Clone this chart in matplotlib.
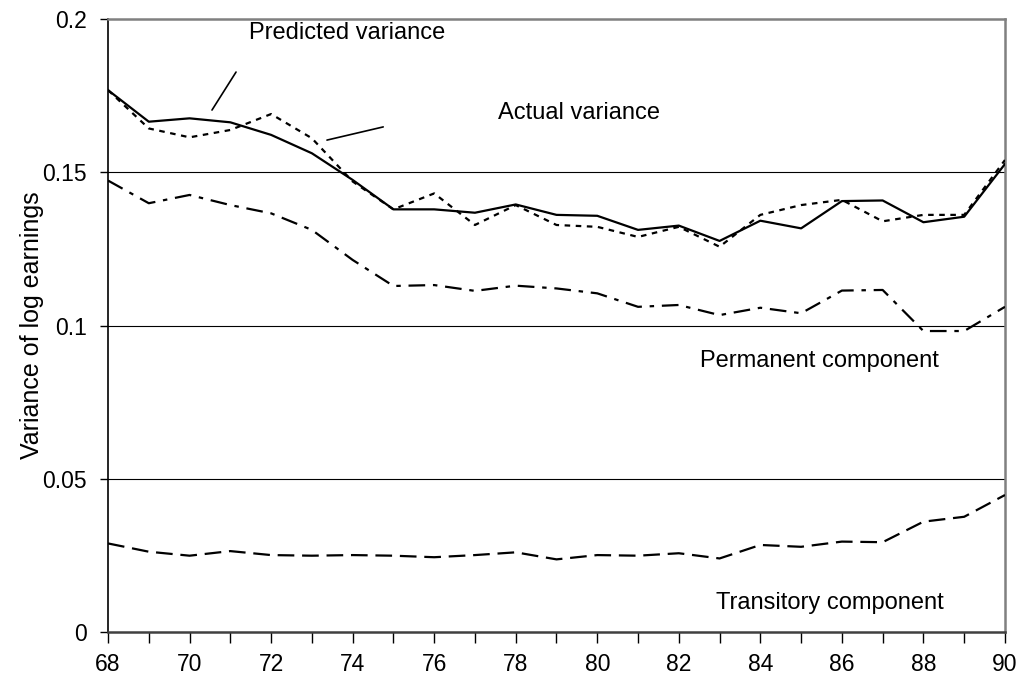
import matplotlib
matplotlib.use("Agg")
import matplotlib.pyplot as plt

plt.rcParams['font.family'] = ['Liberation Sans', 'DejaVu Sans']

years = list(range(68, 91))
predicted = [0.1768, 0.1665, 0.1676, 0.1663, 0.1622, 0.1562, 0.1475, 0.1379, 0.1379, 0.1368,
             0.1395, 0.1361, 0.1358, 0.1312, 0.1326, 0.1276, 0.1342, 0.1317, 0.1406, 0.1408,
             0.1337, 0.1355, 0.1527]
actual = [0.1768, 0.1643, 0.1614, 0.1638, 0.1690, 0.1611, 0.1470, 0.1379, 0.1431, 0.1328,
          0.1393, 0.1328, 0.1322, 0.1289, 0.1322, 0.1257, 0.1361, 0.1393, 0.1410, 0.1340,
          0.1361, 0.1361, 0.1540]
permanent = [0.1473, 0.1399, 0.1426, 0.1393, 0.1366, 0.1312, 0.1214, 0.1129, 0.1132, 0.1113,
             0.1130, 0.1121, 0.1105, 0.1061, 0.1067, 0.1034, 0.1058, 0.1040, 0.1114, 0.1116,
             0.0982, 0.0982, 0.1061]
transitory = [0.0289, 0.0262, 0.0249, 0.0264, 0.0251, 0.0249, 0.0251, 0.0249, 0.0244, 0.0251,
              0.0260, 0.0237, 0.0251, 0.0249, 0.0257, 0.0240, 0.0284, 0.0278, 0.0295, 0.0293,
              0.0360, 0.0376, 0.0447]
xtick_labels = ['68', '70', '72', '74', '76', '78', '80', '82', '84', '86', '88', '90']
ytick_labels = ['0', '0.05', '0.1', '0.15', '0.2']

fig = plt.figure(figsize=(10.21, 6.82), dpi=100)
ax = fig.add_axes([0.1058, 0.0733, 0.8785, 0.8988])

for v in [0.05, 0.1, 0.15]:
    ax.axhline(v, color='black', lw=0.8, zorder=1)

ax.plot(years, transitory, color='black', lw=1.6, dashes=(7.5, 3.5), zorder=3)
ax.plot(years, permanent, color='black', lw=1.6, dashes=(7.5, 3.5, 2, 3.5), zorder=3)
ax.plot(years, actual, color='black', lw=1.6, dashes=(2.5, 2.5), zorder=3)
ax.plot(years, predicted, color='black', lw=1.6, zorder=4)

ax.set_xlim(68, 90)
ax.set_ylim(0, 0.2)
ax.set_xticks(list(range(68, 91, 2)))
ax.set_xticklabels(xtick_labels)
ax.set_xticks(list(range(68, 91)), minor=True)
ax.set_yticks([0, 0.05, 0.1, 0.15, 0.2])
ax.set_yticklabels(ytick_labels)
ax.tick_params(axis='both', which='both', direction='out', labelsize=16.5, color='black', width=1)
ax.tick_params(axis='x', which='both', length=8, pad=7)
ax.tick_params(axis='y', length=6, pad=9)

ax.spines['left'].set_color('black')
ax.spines['left'].set_linewidth(1.2)
ax.spines['bottom'].set_color('#404040')
ax.spines['bottom'].set_linewidth(1.8)
ax.spines['top'].set_color('#808080')
ax.spines['top'].set_linewidth(1.8)
ax.spines['right'].set_color('#808080')
ax.spines['right'].set_linewidth(1.8)

ax.set_ylabel('Variance of log earnings', fontsize=18)
ax.yaxis.set_label_coords(-0.071, 0.5)

line_kw = dict(arrowstyle='-', color='black', lw=1.2, shrinkA=0, shrinkB=0)
ax.annotate('', xy=(70.55, 0.1703), xytext=(71.14, 0.1827), arrowprops=line_kw)
ax.text(71.45, 0.1955, 'Predicted variance', fontsize=17, ha='left', va='center')
ax.annotate('', xy=(73.37, 0.1605), xytext=(74.75, 0.1648), arrowprops=line_kw)
ax.text(77.57, 0.1695, 'Actual variance', fontsize=17, ha='left', va='center')
ax.text(85.46, 0.0885, 'Permanent component', fontsize=17, ha='center', va='center')
ax.text(85.7, 0.0095, 'Transitory component', fontsize=17, ha='center', va='center')

fig.savefig('out.png', dpi=100)
